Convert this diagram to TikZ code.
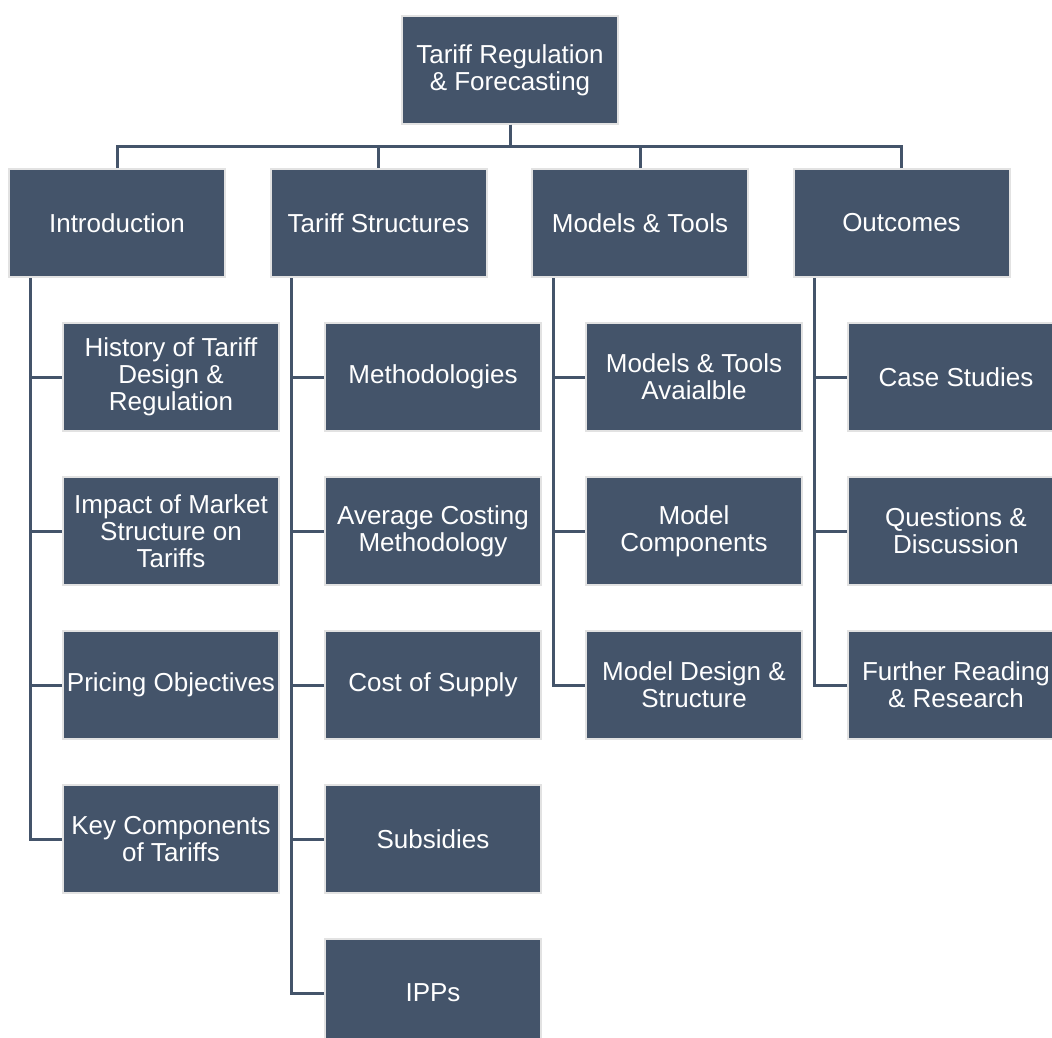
\documentclass[tikz,border=0pt]{standalone}
\usepackage{fontspec}
\setmainfont{Liberation Sans}
\definecolor{slate}{HTML}{44546A}
\definecolor{rim}{HTML}{E2E2E2}
\begin{document}
\begin{tikzpicture}[x=1pt,y=-1pt,
  box/.style={rectangle, fill=slate, draw=rim, line width=2pt,
    minimum width=216pt, minimum height=108pt, inner sep=0pt,
    text=white, align=center, font=\fontsize{26}{27}\selectfont},
  conn/.style={draw=slate, line width=3pt, line join=miter}]
\useasboundingbox (0,0) rectangle (1052,1038);
\clip (0,0) rectangle (1052,1038);

% top level
\node[box] (root) at (510,70) {Tariff Regulation\\\& Forecasting};

% sections
\node[box] (intro) at (117,223)   {Introduction};
\node[box] (ts)    at (378.5,223) {Tariff Structures};
\node[box] (mt)    at (640,223)   {Models \& Tools};
\node[box] (out)   at (901.5,223) {Outcomes};

% introduction topics
\node[box] (i1) at (171,377) {History of Tariff\\Design \&\\Regulation};
\node[box] (i2) at (171,531) {Impact of Market\\Structure on\\Tariffs};
\node[box] (i3) at (171,685) {Pricing Objectives};
\node[box] (i4) at (171,839) {Key Components\\of Tariffs};

% tariff structure topics
\node[box] (t1) at (433,377) {Methodologies};
\node[box] (t2) at (433,531) {Average Costing\\Methodology};
\node[box] (t3) at (433,685) {Cost of Supply};
\node[box] (t4) at (433,839) {Subsidies};
\node[box] (t5) at (433,993) {IPPs};

% models and tools topics
\node[box] (m1) at (694,377) {Models \& Tools\\Avaialble};
\node[box] (m2) at (694,531) {Model\\Components};
\node[box] (m3) at (694,685) {Model Design \&\\Structure};

% outcome topics
\node[box] (o1) at (956,377) {Case Studies};
\node[box] (o2) at (956,531) {Questions \&\\Discussion};
\node[box] (o3) at (956,685) {Further Reading\\\& Research};

% root to sections
\foreach \s in {intro,ts,mt,out}
  \draw[conn] (root.south) -- ++(0,22) -| (\s.north);

% section spines to topics
\foreach \p/\c in {intro/i1,intro/i2,intro/i3,intro/i4,
                   ts/t1,ts/t2,ts/t3,ts/t4,ts/t5,
                   mt/m1,mt/m2,mt/m3,
                   out/o1,out/o2,out/o3}
  \draw[conn] ([xshift=22pt]\p.south west) |- (\c.west);
\end{tikzpicture}
\end{document}
